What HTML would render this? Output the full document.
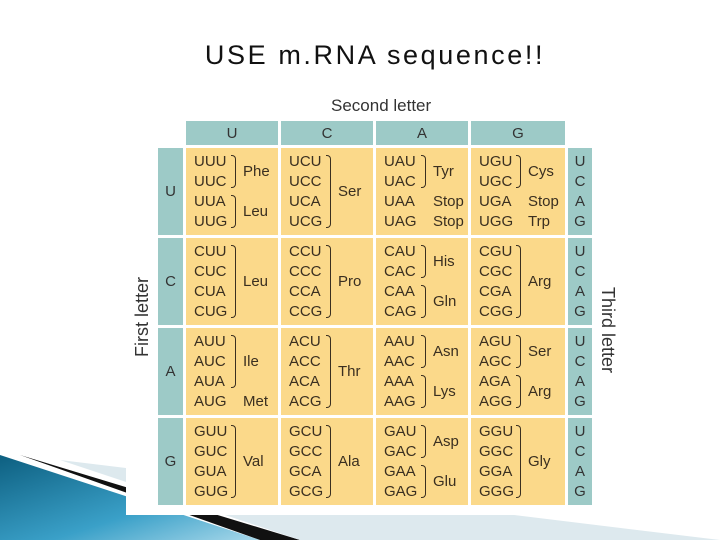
<!DOCTYPE html>
<html><head><meta charset="utf-8"><style>
body{margin:0;width:720px;height:540px;background:#fff;position:relative;overflow:hidden;font-family:"Liberation Sans",sans-serif}
.a{position:absolute}
.t{position:absolute;left:0;width:750px;text-align:center;top:40px;font-size:27px;letter-spacing:2.6px;color:#111}
.h{position:absolute;background:#9dcac7;color:#333;font-size:15px;display:flex;align-items:center;justify-content:center}
.cell{position:absolute;width:92px;height:87px;background:#fbd98a;color:#3a2f20;font-size:15px}
.c{position:absolute;left:8px;top:4px;line-height:20px}
.b{position:absolute;left:45px;width:4px;border:1.4px solid #3a2f20;border-left:none;border-radius:0 4px 4px 0}
.l{position:absolute;left:57px;line-height:20px}
</style></head><body>
<svg class="a" style="left:0;top:0" width="720" height="540">
<defs><linearGradient id="g" x1="0" y1="0" x2="1" y2="1"><stop offset="0" stop-color="#0d5f80"/><stop offset="0.6" stop-color="#3aa0c8"/><stop offset="1" stop-color="#a8d8ea"/></linearGradient></defs>
<polygon points="0,455 260,540 0,540" fill="url(#g)"/>
<polygon points="20,455 300,540 260,540" fill="#111"/>
<polygon points="60,460 720,540 300,540" fill="#dde9ee"/>
</svg>
<div class="a" style="left:126px;top:90px;width:469px;height:425px;background:#fff"></div>
<div class="t">USE m.RNA sequence!!</div>
<div class="a" style="left:331px;top:96px;font-size:17px;color:#333">Second letter</div>
<div class="a" style="left:132px;top:357px;font-size:18px;color:#333;transform:rotate(-90deg);transform-origin:0 0;white-space:nowrap">First letter</div>
<div class="a" style="left:618px;top:287px;font-size:18px;color:#333;transform:rotate(90deg);transform-origin:0 0;white-space:nowrap">Third letter</div>
<div class="h" style="left:186px;top:121px;width:92px;height:24px">U</div>
<div class="h" style="left:281px;top:121px;width:92px;height:24px">C</div>
<div class="h" style="left:376px;top:121px;width:92px;height:24px">A</div>
<div class="h" style="left:471px;top:121px;width:94px;height:24px">G</div>
<div class="h" style="left:158px;top:148px;width:25px;height:87px">U</div>
<div class="h" style="left:158px;top:238px;width:25px;height:87px">C</div>
<div class="h" style="left:158px;top:328px;width:25px;height:87px">A</div>
<div class="h" style="left:158px;top:418px;width:25px;height:87px">G</div>
<div class="h" style="left:568px;top:148px;width:24px;height:87px;line-height:20px;text-align:center">U<br>C<br>A<br>G</div>
<div class="h" style="left:568px;top:238px;width:24px;height:87px;line-height:20px;text-align:center">U<br>C<br>A<br>G</div>
<div class="h" style="left:568px;top:328px;width:24px;height:87px;line-height:20px;text-align:center">U<br>C<br>A<br>G</div>
<div class="h" style="left:568px;top:418px;width:24px;height:87px;line-height:20px;text-align:center">U<br>C<br>A<br>G</div>

<div class="cell" style="left:186px;top:148px"><div class="c">UUU<br>UUC<br>UUA<br>UUG</div><div class="b" style="top:7px;height:31px"></div><div class="l" style="top:14px">Phe</div><div class="b" style="top:47px;height:31px"></div><div class="l" style="top:54px">Leu</div></div>
<div class="cell" style="left:281px;top:148px"><div class="c">UCU<br>UCC<br>UCA<br>UCG</div><div class="b" style="top:7px;height:71px"></div><div class="l" style="top:34px">Ser</div></div>
<div class="cell" style="left:376px;top:148px"><div class="c">UAU<br>UAC<br>UAA<br>UAG</div><div class="b" style="top:7px;height:31px"></div><div class="l" style="top:14px">Tyr</div><div class="l" style="top:44px">Stop</div><div class="l" style="top:64px">Stop</div></div>
<div class="cell" style="left:471px;top:148px;width:94px"><div class="c">UGU<br>UGC<br>UGA<br>UGG</div><div class="b" style="top:7px;height:31px"></div><div class="l" style="top:14px">Cys</div><div class="l" style="top:44px">Stop</div><div class="l" style="top:64px">Trp</div></div>

<div class="cell" style="left:186px;top:238px"><div class="c">CUU<br>CUC<br>CUA<br>CUG</div><div class="b" style="top:7px;height:71px"></div><div class="l" style="top:34px">Leu</div></div>
<div class="cell" style="left:281px;top:238px"><div class="c">CCU<br>CCC<br>CCA<br>CCG</div><div class="b" style="top:7px;height:71px"></div><div class="l" style="top:34px">Pro</div></div>
<div class="cell" style="left:376px;top:238px"><div class="c">CAU<br>CAC<br>CAA<br>CAG</div><div class="b" style="top:7px;height:31px"></div><div class="l" style="top:14px">His</div><div class="b" style="top:47px;height:31px"></div><div class="l" style="top:54px">Gln</div></div>
<div class="cell" style="left:471px;top:238px;width:94px"><div class="c">CGU<br>CGC<br>CGA<br>CGG</div><div class="b" style="top:7px;height:71px"></div><div class="l" style="top:34px">Arg</div></div>

<div class="cell" style="left:186px;top:328px"><div class="c">AUU<br>AUC<br>AUA<br>AUG</div><div class="b" style="top:7px;height:51px"></div><div class="l" style="top:24px">Ile</div><div class="l" style="top:64px">Met</div></div>
<div class="cell" style="left:281px;top:328px"><div class="c">ACU<br>ACC<br>ACA<br>ACG</div><div class="b" style="top:7px;height:71px"></div><div class="l" style="top:34px">Thr</div></div>
<div class="cell" style="left:376px;top:328px"><div class="c">AAU<br>AAC<br>AAA<br>AAG</div><div class="b" style="top:7px;height:31px"></div><div class="l" style="top:14px">Asn</div><div class="b" style="top:47px;height:31px"></div><div class="l" style="top:54px">Lys</div></div>
<div class="cell" style="left:471px;top:328px;width:94px"><div class="c">AGU<br>AGC<br>AGA<br>AGG</div><div class="b" style="top:7px;height:31px"></div><div class="l" style="top:14px">Ser</div><div class="b" style="top:47px;height:31px"></div><div class="l" style="top:54px">Arg</div></div>

<div class="cell" style="left:186px;top:418px"><div class="c">GUU<br>GUC<br>GUA<br>GUG</div><div class="b" style="top:7px;height:71px"></div><div class="l" style="top:34px">Val</div></div>
<div class="cell" style="left:281px;top:418px"><div class="c">GCU<br>GCC<br>GCA<br>GCG</div><div class="b" style="top:7px;height:71px"></div><div class="l" style="top:34px">Ala</div></div>
<div class="cell" style="left:376px;top:418px"><div class="c">GAU<br>GAC<br>GAA<br>GAG</div><div class="b" style="top:7px;height:31px"></div><div class="l" style="top:14px">Asp</div><div class="b" style="top:47px;height:31px"></div><div class="l" style="top:54px">Glu</div></div>
<div class="cell" style="left:471px;top:418px;width:94px"><div class="c">GGU<br>GGC<br>GGA<br>GGG</div><div class="b" style="top:7px;height:71px"></div><div class="l" style="top:34px">Gly</div></div>
</body></html>
